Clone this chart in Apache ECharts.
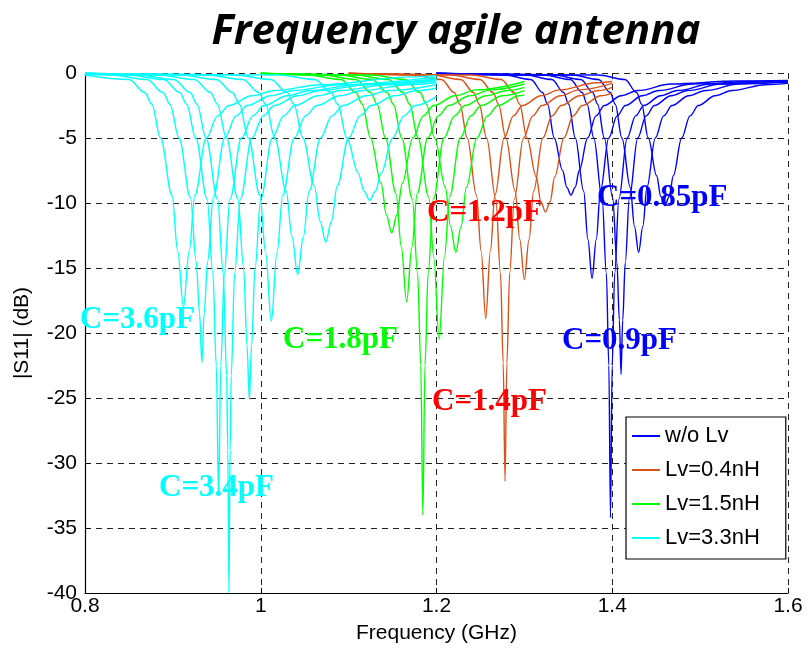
<!DOCTYPE html>
<html><head><meta charset="utf-8">
<script src="https://cdn.jsdelivr.net/npm/echarts@6/dist/echarts.min.js"></script>
<style>html,body{margin:0;padding:0;background:#fff}#c{width:809px;height:656px}</style>
</head><body><div id="c"></div>
<script>
// ---- tick labels ----
const xTicks = [0.8, 1.0, 1.2, 1.4, 1.6];
const yTicks = [-40, -35, -30, -25, -20, -15, -10, -5, 0];
const legendNames = ['w/o Lv', 'Lv=0.4nH', 'Lv=1.5nH', 'Lv=3.3nH'];

// ---- w/o Lv (blue) : [GHz, dB] ----
const blue1 = [[1.2,-0.02],[1.277,-0.15],[1.3074,-0.5],[1.3207,-1.5],[1.3264,-2.4],[1.334,-5],[1.3435,-7.5],[1.3483,-8.8],[1.353,-9.4],[1.3578,-8.8],[1.3625,-7.5],[1.372,-5],[1.3815,-3.3],[1.391,-2.5],[1.41,-1.75],[1.429,-1.35],[1.467,-0.85],[1.543,-0.62],[1.6,-0.58]];
const blue2 = [[1.2,-0.02],[1.301,-0.15],[1.3314,-0.5],[1.3447,-1.5],[1.3504,-2.4],[1.358,-5],[1.3675,-9.1],[1.3723,-12.8],[1.377,-15.8],[1.3818,-12.8],[1.3865,-9.1],[1.396,-5],[1.4055,-3.3],[1.415,-2.5],[1.434,-1.75],[1.453,-1.35],[1.491,-0.85],[1.567,-0.63],[1.6,-0.6]];
const blue3 = [[1.2,-0.02],[1.322,-0.15],[1.3524,-0.5],[1.3657,-1.5],[1.3714,-2.4],[1.379,-5],[1.3885,-9.7],[1.3933,-15.4],[1.3961,-22.5],[1.398,-34.2],[1.3999,-22.5],[1.4028,-15.4],[1.4075,-9.7],[1.417,-5],[1.4265,-3.3],[1.436,-2.5],[1.455,-1.75],[1.474,-1.35],[1.512,-0.85],[1.588,-0.65],[1.6,-0.64]];
const blue4 = [[1.2,-0.02],[1.334,-0.15],[1.3644,-0.5],[1.3777,-1.5],[1.3834,-2.4],[1.391,-5],[1.4005,-9.6],[1.4053,-14.6],[1.4081,-19],[1.41,-23.2],[1.4119,-19],[1.4148,-14.6],[1.4195,-9.6],[1.429,-5],[1.4385,-3.3],[1.448,-2.5],[1.467,-1.75],[1.486,-1.35],[1.524,-0.85],[1.6,-0.66]];
const blue5 = [[1.2,-0.01],[1.354,-0.15],[1.3844,-0.5],[1.3977,-1.5],[1.4034,-2.4],[1.411,-5],[1.4205,-8.8],[1.4253,-11.8],[1.43,-13.8],[1.4348,-11.8],[1.4395,-8.8],[1.449,-5],[1.4585,-3.3],[1.468,-2.5],[1.487,-1.75],[1.506,-1.35],[1.544,-0.85],[1.6,-0.7]];
const blue6 = [[1.2,-0.01],[1.384,-0.15],[1.4144,-0.5],[1.4277,-1.5],[1.4334,-2.4],[1.441,-5],[1.4505,-7.9],[1.4553,-9.5],[1.46,-10.2],[1.4648,-9.5],[1.4695,-7.9],[1.479,-5],[1.4885,-3.3],[1.498,-2.5],[1.517,-1.75],[1.536,-1.35],[1.574,-0.9],[1.6,-0.8]];

// ---- Lv=0.4nH (red) ----
const red1 = [[1.1,-0.02],[1.172,-0.15],[1.2056,-0.5],[1.2203,-1.5],[1.2266,-2.4],[1.235,-5],[1.2455,-9.4],[1.2508,-13.7],[1.256,-18.9],[1.2613,-13.7],[1.2665,-9.4],[1.277,-5],[1.2875,-3.3],[1.298,-2.5],[1.319,-1.75],[1.34,-1.3],[1.382,-0.75],[1.4,-0.65]];
const red2 = [[1.1,-0.02],[1.194,-0.15],[1.2276,-0.5],[1.2423,-1.5],[1.2486,-2.4],[1.257,-5],[1.2675,-9.7],[1.2728,-15.4],[1.2759,-22.3],[1.278,-31.4],[1.2801,-22.3],[1.2833,-15.4],[1.2885,-9.7],[1.299,-5],[1.3095,-3.3],[1.32,-2.5],[1.341,-1.75],[1.362,-1.3],[1.4,-0.8]];
const red3 = [[1.1,-0.01],[1.216,-0.15],[1.2496,-0.5],[1.2643,-1.5],[1.2706,-2.4],[1.279,-5],[1.2895,-9.1],[1.2948,-12.8],[1.3,-15.9],[1.3053,-12.8],[1.3105,-9.1],[1.321,-5],[1.3315,-3.3],[1.342,-2.5],[1.363,-1.75],[1.384,-1.35],[1.4,-1.1]];
const red4 = [[1.1,-0.01],[1.24,-0.15],[1.2736,-0.5],[1.2883,-1.5],[1.2946,-2.4],[1.303,-5],[1.3135,-8.0],[1.3188,-9.9],[1.324,-10.7],[1.3293,-9.9],[1.3345,-8.0],[1.345,-5],[1.3555,-3.3],[1.366,-2.5],[1.387,-1.75],[1.4,-1.55]];

// ---- Lv=1.5nH (green) ----
const green1 = [[1.0,-0.02],[1.053,-0.15],[1.0914,-0.5],[1.1082,-1.5],[1.1154,-2.4],[1.125,-5],[1.137,-8.5],[1.143,-10.9],[1.149,-12.3],[1.155,-10.9],[1.161,-8.5],[1.173,-5],[1.185,-3.3],[1.197,-2.5],[1.221,-1.75],[1.245,-1.3],[1.3,-0.65]];
const green2 = [[1.0,-0.02],[1.07,-0.15],[1.1084,-0.5],[1.1252,-1.5],[1.1324,-2.4],[1.142,-5],[1.154,-9.3],[1.16,-13.4],[1.166,-17.6],[1.172,-13.4],[1.178,-9.3],[1.19,-5],[1.202,-3.3],[1.214,-2.5],[1.238,-1.75],[1.262,-1.3],[1.3,-0.85]];
const green3 = [[1.0,-0.02],[1.0885,-0.15],[1.1269,-0.5],[1.1437,-1.5],[1.1509,-2.4],[1.1605,-5],[1.1725,-9.7],[1.1785,-15.4],[1.1821,-22.5],[1.1845,-34],[1.1869,-22.5],[1.1905,-15.4],[1.1965,-9.7],[1.2085,-5],[1.2205,-3.3],[1.2325,-2.5],[1.2565,-1.75],[1.2805,-1.35],[1.3,-1.1]];
const green4 = [[1.0,-0.02],[1.107,-0.15],[1.1454,-0.5],[1.1622,-1.5],[1.1694,-2.4],[1.179,-5],[1.191,-9.5],[1.197,-14.2],[1.203,-20.5],[1.209,-14.2],[1.215,-9.5],[1.227,-5],[1.239,-3.3],[1.251,-2.5],[1.275,-1.75],[1.3,-1.35]];
const green5 = [[1.0,-0.01],[1.126,-0.15],[1.1644,-0.5],[1.1812,-1.5],[1.1884,-2.4],[1.198,-5],[1.21,-8.8],[1.216,-11.8],[1.222,-13.8],[1.228,-11.8],[1.234,-8.8],[1.246,-5],[1.258,-3.3],[1.27,-2.5],[1.294,-1.75],[1.3,-1.7]];

// ---- Lv=3.3nH (cyan) ----
const cyan1 = [[0.8,-0.15],[0.85,-0.5],[0.868,-1.5],[0.876,-2.4],[0.886,-5],[0.899,-9.4],[0.9055,-13.7],[0.912,-18],[0.9185,-13.7],[0.925,-9.4],[0.938,-5],[0.951,-3.3],[0.964,-2.5],[0.99,-1.75],[1.016,-1.35],[1.068,-0.9],[1.172,-0.3],[1.2,-0.2]];
const cyan2 = [[0.8,-0.08],[0.829,-0.15],[0.8706,-0.5],[0.8888,-1.5],[0.8966,-2.4],[0.907,-5],[0.92,-9.6],[0.9265,-14.5],[0.9304,-18.5],[0.933,-22.3],[0.9356,-18.5],[0.9395,-14.5],[0.946,-9.6],[0.959,-5],[0.972,-3.3],[0.985,-2.5],[1.011,-1.75],[1.037,-1.35],[1.089,-0.9],[1.2,-0.3]];
const cyan3 = [[0.8,-0.05],[0.848,-0.15],[0.8896,-0.5],[0.9078,-1.5],[0.9156,-2.4],[0.926,-5],[0.939,-9.7],[0.9455,-15.4],[0.9494,-22.5],[0.952,-32.5],[0.9546,-22.5],[0.9585,-15.4],[0.965,-9.7],[0.978,-5],[0.991,-3.3],[1.004,-2.5],[1.03,-1.75],[1.056,-1.35],[1.108,-0.9],[1.2,-0.42]];
const cyan4 = [[0.8,-0.04],[0.8598,-0.15],[0.9014,-0.5],[0.9196,-1.5],[0.9274,-2.4],[0.9378,-5],[0.9508,-9.7],[0.9573,-15.4],[0.9612,-23.3],[0.9625,-29],[0.9638,-40],[0.9651,-29],[0.9664,-23.3],[0.9703,-15.4],[0.9768,-9.7],[0.9898,-5],[1.0028,-3.3],[1.0158,-2.5],[1.0418,-1.75],[1.0678,-1.35],[1.1198,-0.9],[1.2,-0.5]];
const cyan5 = [[0.8,-0.03],[0.883,-0.15],[0.9246,-0.5],[0.9428,-1.5],[0.9506,-2.4],[0.961,-5],[0.974,-9.7],[0.9805,-15],[0.9844,-21],[0.987,-25.1],[0.9896,-21],[0.9935,-15],[1.0,-9.7],[1.013,-5],[1.026,-3.3],[1.039,-2.5],[1.065,-1.75],[1.091,-1.35],[1.143,-0.9],[1.2,-0.6]];
const cyan6 = [[0.8,-0.02],[0.908,-0.15],[0.9496,-0.5],[0.9678,-1.5],[0.9756,-2.4],[0.986,-5],[0.999,-9.4],[1.0055,-13.8],[1.012,-19.1],[1.0185,-13.8],[1.025,-9.4],[1.038,-5],[1.051,-3.3],[1.064,-2.5],[1.09,-1.75],[1.116,-1.35],[1.168,-0.9],[1.2,-0.75]];
const cyan7 = [[0.8,-0.02],[0.938,-0.15],[0.9796,-0.5],[0.9978,-1.5],[1.0056,-2.4],[1.016,-5],[1.029,-9.1],[1.0355,-12.6],[1.042,-15.5],[1.0485,-12.6],[1.055,-9.1],[1.068,-5],[1.081,-3.3],[1.094,-2.5],[1.12,-1.75],[1.146,-1.35],[1.2,-0.9]];
const cyan8 = [[0.8,-0.01],[0.97,-0.15],[1.0116,-0.5],[1.0298,-1.5],[1.0376,-2.4],[1.048,-5],[1.061,-8.7],[1.0675,-11.4],[1.074,-13],[1.0805,-11.4],[1.087,-8.7],[1.1,-5],[1.113,-3.3],[1.126,-2.5],[1.152,-1.75],[1.178,-1.35],[1.2,-1.15]];
const cyan9 = [[0.8,-0.01],[1.02,-0.15],[1.0616,-0.5],[1.0798,-1.5],[1.0876,-2.4],[1.098,-5],[1.111,-7.7],[1.1175,-9.1],[1.124,-9.8],[1.1305,-9.1],[1.137,-7.7],[1.15,-5],[1.163,-3.3],[1.176,-2.5],[1.2,-1.8]];

// ---- annotation texts ----
const annotations = ['C=3.6pF', 'C=3.4pF', 'C=1.8pF', 'C=1.2pF', 'C=1.4pF', 'C=0.85pF', 'C=0.9pF'];

const families = [
  {name: legendNames[0], color: '#0000ff', curves: [blue1, blue2, blue3, blue4, blue5, blue6]},
  {name: legendNames[1], color: '#d95319', curves: [red1, red2, red3, red4]},
  {name: legendNames[2], color: '#00ff00', curves: [green1, green2, green3, green4, green5]},
  {name: legendNames[3], color: '#00ffff', curves: [cyan1, cyan2, cyan3, cyan4, cyan5, cyan6, cyan7, cyan8, cyan9]}
];

const series = [];
families.forEach(fam => {
  fam.curves.forEach(c => {
    series.push({
      type: 'line', name: fam.name, data: c, showSymbol: false, symbol: 'none',
      smooth: 0.35, smoothMonotone: 'x',
      lineStyle: {color: fam.color, width: 1.4}, itemStyle: {color: fam.color},
      z: 2
    });
  });
});

const annStyle = (txt, x, y, color) => ({
  type: 'text', left: x, top: y, z: 100,
  style: {text: txt, fill: color, font: 'bold 31px "Liberation Serif", "Times New Roman", serif'}
});

const chart = echarts.init(document.getElementById('c'), null, {renderer: 'canvas'});
chart.setOption({
  animation: false,
  backgroundColor: '#fff',
  title: {
    text: 'Frequency agile antenna', left: 451, top: 6, textAlign: 'center',
    textStyle: {fontFamily: '"Open Sans", sans-serif', fontWeight: 'bold', fontStyle: 'italic', fontSize: 42, color: '#000'}
  },
  grid: {left: 85, right: 21, top: 73, bottom: 63, containLabel: false},
  legend: {
    data: legendNames, left: 626, top: 417, orient: 'vertical',
    backgroundColor: '#fff', borderColor: '#000', borderWidth: 1.2,
    padding: [8, 26, 10, 6], itemGap: 12, itemWidth: 28, itemHeight: 2, itemTextGap: 4,
    icon: 'rect',
    textStyle: {fontFamily: '"Liberation Sans", Arial, sans-serif', fontSize: 22, color: '#000'}
  },
  xAxis: {
    type: 'value', min: xTicks[0], max: xTicks[xTicks.length - 1], interval: 0.2,
    name: 'Frequency (GHz)', nameLocation: 'middle', nameGap: 30,
    nameTextStyle: {fontFamily: '"Liberation Sans", Arial, sans-serif', fontSize: 21, color: '#000'},
    axisLine: {show: true, onZero: false, lineStyle: {color: '#000', width: 1.2}},
    axisTick: {show: true, inside: true, length: 5, lineStyle: {color: '#000'}},
    axisLabel: {fontFamily: '"Liberation Sans", Arial, sans-serif', fontSize: 21, color: '#000', margin: 3,
      formatter: v => String(+v.toFixed(1))},
    splitLine: {show: true, lineStyle: {color: '#222', type: [6, 5], width: 1}}
  },
  yAxis: {
    type: 'value', min: yTicks[0], max: yTicks[yTicks.length - 1], interval: 5,
    name: '|S11| (dB)', nameLocation: 'middle', nameGap: 52, nameRotate: 90,
    nameTextStyle: {fontFamily: '"Liberation Sans", Arial, sans-serif', fontSize: 21, color: '#000'},
    axisLine: {show: true, onZero: false, lineStyle: {color: '#000', width: 1.2}},
    axisTick: {show: true, inside: true, length: 5, lineStyle: {color: '#000'}},
    axisLabel: {fontFamily: '"Liberation Sans", Arial, sans-serif', fontSize: 21, color: '#000', margin: 8},
    splitLine: {show: true, lineStyle: {color: '#222', type: [6, 5], width: 1}}
  },
  graphic: [
    annStyle(annotations[0], 80, 304, '#00ffff'),
    annStyle(annotations[1], 159, 472, '#00ffff'),
    annStyle(annotations[2], 283, 324, '#00ff00'),
    annStyle(annotations[3], 427, 197, '#ff0000'),
    annStyle(annotations[4], 432, 386, '#ff0000'),
    annStyle(annotations[5], 597, 182, '#0000ff'),
    annStyle(annotations[6], 562, 325, '#0000ff')
  ],
  series: series
});
</script></body></html>
